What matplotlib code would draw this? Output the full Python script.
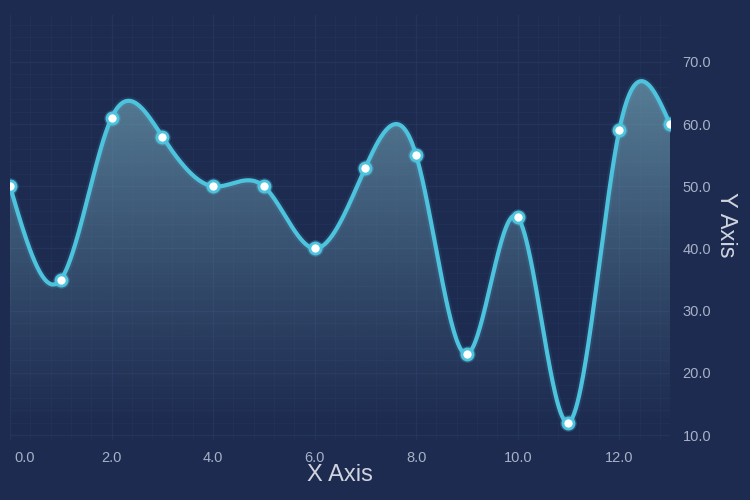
import numpy as np
import matplotlib
matplotlib.use('Agg')
import matplotlib.pyplot as plt
from matplotlib.ticker import MultipleLocator, FuncFormatter, FormatStrFormatter

# Data
x_values = [0, 1, 2, 3, 4, 5, 6, 7, 8, 9, 10, 11, 12, 13]
y_values = [50, 35, 61, 58, 50, 50, 40, 53, 55, 23, 45, 12, 59, 60]

BG = '#1d2b50'
LINE = '#4ec3de'
FILL = (110 / 255, 158 / 255, 178 / 255)
TEXT = '#a7b0c6'
FONT = ['Liberation Sans', 'DejaVu Sans']


def natural_spline(xs, ys, n=800):
    # smooth curve through the points, like the spline series of the original
    xs = np.asarray(xs, float)
    ys = np.asarray(ys, float)
    k = len(xs)
    h = np.diff(xs)
    a = np.zeros((k, k))
    b = np.zeros(k)
    a[0, 0] = a[-1, -1] = 1
    for i in range(1, k - 1):
        a[i, i - 1] = h[i - 1]
        a[i, i] = 2 * (h[i - 1] + h[i])
        a[i, i + 1] = h[i]
        b[i] = 3 * ((ys[i + 1] - ys[i]) / h[i] - (ys[i] - ys[i - 1]) / h[i - 1])
    c = np.linalg.solve(a, b)
    xx = np.linspace(xs[0], xs[-1], n)
    idx = np.clip(np.searchsorted(xs, xx) - 1, 0, k - 2)
    dx = xx - xs[idx]
    hi = h[idx]
    bb = (ys[idx + 1] - ys[idx]) / hi - hi * (2 * c[idx] + c[idx + 1]) / 3
    dd = (c[idx + 1] - c[idx]) / (3 * hi)
    yy = ys[idx] + bb * dx + c[idx] * dx ** 2 + dd * dx ** 3
    return xx, yy


plt.rcParams['font.family'] = FONT

fig = plt.figure(figsize=(7.5, 5), dpi=100, facecolor=BG)
ax = fig.add_axes([10 / 750, 60 / 500, 660 / 750, 425 / 500])
ax.set_facecolor(BG)

ymin, ymax = 9.2, 77.55
ax.set_xlim(0, 13)
ax.set_ylim(ymin, ymax)

xs, ys = natural_spline(x_values, y_values)

# grid, kept faint and behind the fill
ax.set_axisbelow(True)
ax.xaxis.set_major_locator(MultipleLocator(2))
ax.xaxis.set_minor_locator(MultipleLocator(0.4))
ax.yaxis.set_major_locator(MultipleLocator(10))
ax.yaxis.set_minor_locator(MultipleLocator(2))
ax.grid(which='major', color='#33467a', lw=0.9, alpha=0.3, zorder=0)
ax.grid(which='minor', color='#33467a', lw=0.6, alpha=0.18, zorder=0)

# gradient fill under the curve
grad = np.zeros((256, 1, 4))
t = np.linspace(0, 1, 256)[:, None]
grad[:, :, 0] = FILL[0]
grad[:, :, 1] = FILL[1]
grad[:, :, 2] = FILL[2]
grad[:, :, 3] = 0.72 * t ** 1.15
poly = ax.fill_between(xs, ys, ymin, color='none', lw=0)
img = ax.imshow(grad, extent=[0, 13, 11, 67], origin='lower',
                aspect='auto', zorder=1)
img.set_clip_path(poly.get_paths()[0], transform=ax.transData)

# line with a soft glow
ax.plot(xs, ys, color=LINE, lw=6, alpha=0.10, zorder=2, solid_capstyle='round')
ax.plot(xs, ys, color=LINE, lw=3, zorder=3, solid_capstyle='round')
ax.plot(x_values, y_values, 'o', ms=12, color=LINE, alpha=0.25, mew=0, zorder=4)
ax.plot(x_values, y_values, 'o', ms=8, mfc='white', mec=LINE, mew=2, zorder=5)

for s in ax.spines.values():
    s.set_visible(False)

ax.yaxis.tick_right()
# the first x label sits inside the plot edge, so it is placed by hand below
ax.xaxis.set_major_formatter(FuncFormatter(lambda v, p: '' if v == 0 else '%.1f' % v))
ax.yaxis.set_major_formatter(FormatStrFormatter('%.1f'))
ax.tick_params(which='both', length=0, colors=TEXT, labelsize=10.5, pad=8)
ax.tick_params(axis='y', pad=9)
fig.text(14 / 750, 0, '0.0', color=TEXT, fontsize=10.5, ha='left', va='top',
         transform=matplotlib.transforms.blended_transform_factory(
             fig.transFigure, ax.xaxis.get_ticklabels()[1].get_transform()))

fig.text(340 / 750, 1 - 475 / 500, 'X Axis', color='#d0d4de', fontsize=17,
         ha='center', va='center')
fig.text(726 / 750, 1 - 225 / 500, 'Y Axis', color='#d0d4de', fontsize=17,
         ha='center', va='center', rotation=270)

fig.savefig('out.png', dpi=100, facecolor=BG)
